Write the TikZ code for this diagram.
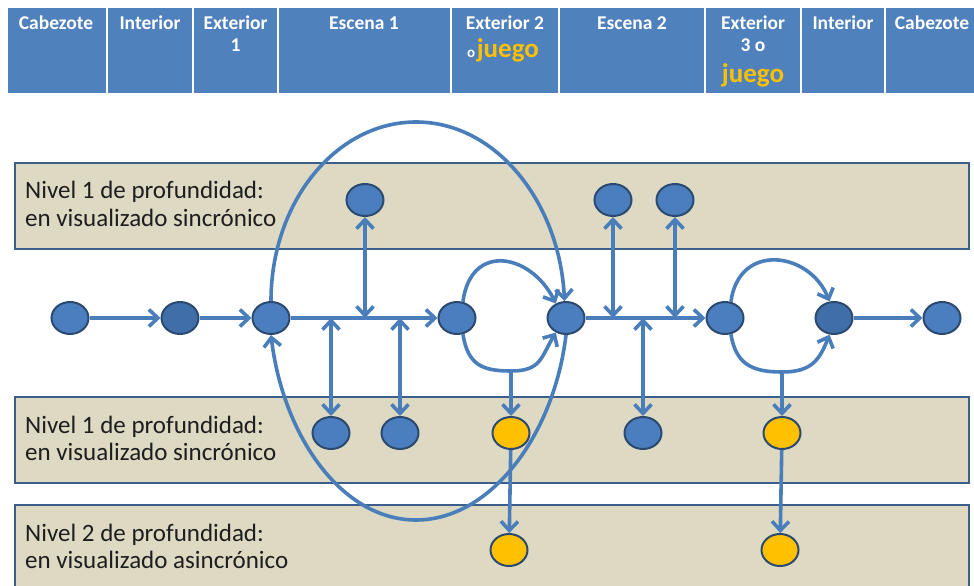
\documentclass[tikz,border=0pt]{standalone}
\usepackage{fontspec}
\setmainfont{Carlito}
\usetikzlibrary{shapes.geometric,arrows.meta}
\definecolor{hdr}{HTML}{4F81BD}
\definecolor{gold}{HTML}{FFC000}
\definecolor{bandfill}{HTML}{DDD9C3}
\definecolor{bandline}{HTML}{3B5E8C}
\definecolor{connc}{HTML}{4A7EBB}
\definecolor{discfill}{HTML}{4A7EBE}
\definecolor{discdark}{HTML}{3F6EA8}
\definecolor{discline}{HTML}{2C4A70}
\definecolor{ink}{HTML}{1E1E1E}
\begin{document}
\begin{tikzpicture}[x=1pt,y=-1pt,
  hcell/.style={draw=white, line width=1.5pt, fill=hdr, anchor=north west, minimum height=87pt, inner sep=0pt, outer sep=0pt},
  htext/.style={anchor=base, text=white, font=\bfseries\fontsize{19.5}{22}\selectfont, inner sep=0pt},
  jtext/.style={anchor=base, text=gold, font=\bfseries\fontsize{27}{30}\selectfont, inner sep=0pt},
  band/.style={draw=bandline, line width=1.8pt, fill=bandfill, anchor=north west, inner sep=0pt, minimum width=954pt},
  btext/.style={anchor=base west, text=ink, font=\fontsize{25}{28}\selectfont, inner sep=0pt},
  disc/.style={ellipse, draw=discline, line width=2pt, fill=discfill, minimum width=37pt, minimum height=32pt, inner sep=0pt},
  discd/.style={disc, fill=discdark},
  discy/.style={disc, fill=gold},
  link/.style={draw=connc, line width=3.6pt, -{Straight Barb[length=9pt,width=17pt]}},
  link2/.style={draw=connc, line width=3.6pt, {Straight Barb[length=9pt,width=17pt]}-{Straight Barb[length=9pt,width=17pt]}}
]
\useasboundingbox (0,0) rectangle (974,586);
\clip (0,0) rectangle (974,586);
% header
\node[hcell, minimum width=100pt] (h1) at (7,7) {};
\node[hcell, minimum width=86pt] (h2) at (107,7) {};
\node[hcell, minimum width=85pt] (h3) at (193,7) {};
\node[hcell, minimum width=173pt] (h4) at (278,7) {};
\node[hcell, minimum width=108pt] (h5) at (451,7) {};
\node[hcell, minimum width=146pt] (h6) at (559,7) {};
\node[hcell, minimum width=96pt] (h7) at (705,7) {};
\node[hcell, minimum width=84pt] (h8) at (801,7) {};
\node[hcell, minimum width=100pt] (h9) at (885,7) {};
\node[htext] (x1) at (56,30) {Cabezote};
\node[htext] (x2) at (150,30) {Interior};
\node[htext] (x3a) at (235.5,30) {Exterior};
\node[htext] (x3b) at (235.5,52) {1};
\node[htext] (x4) at (364,30) {Escena 1};
\node[htext] (x5a) at (505,30) {Exterior 2};
\node[anchor=base, inner sep=0pt] (x5b) at (503,58) {\textcolor{white}{\bfseries\fontsize{15}{16}\selectfont o}\,\textcolor{gold}{\bfseries\fontsize{27}{30}\selectfont juego}};
\node[htext] (x6) at (632,30) {Escena 2};
\node[htext] (x7a) at (753,30) {Exterior};
\node[htext] (x7b) at (753,52) {3 o};
\node[jtext] (x7c) at (753,82) {juego};
\node[htext] (x8) at (843,30) {Interior};
\node[htext] (x9) at (932,30) {Cabezote};
% bands
\node[band, minimum height=86pt] (b1) at (14,162) {};
\node[band, minimum height=86pt] (b2) at (14,396) {};
\node[band, minimum height=100pt] (b3) at (14,504) {};
\node[btext] (l1a) at (25,198) {Nivel 1 de profundidad:};
\node[btext] (l1b) at (25,226) {en visualizado sincrónico};
\node[btext] (l2a) at (25,433) {Nivel 1 de profundidad:};
\node[btext] (l2b) at (25,460) {en visualizado sincrónico};
\node[btext] (l3a) at (25,541) {Nivel 2 de profundidad:};
\node[btext] (l3b) at (25,568) {en visualizado asincrónico};
% discs
\node[disc] (n1) at (70,318) {};
\node[discd] (n2) at (180,318) {};
\node[disc] (n3) at (271,318) {};
\node[disc] (n4) at (457,318) {};
\node[disc] (n5) at (566,318) {};
\node[disc] (n6) at (725,318) {};
\node[discd] (n7) at (834,318) {};
\node[disc] (n8) at (942,318) {};
\node[disc] (t1) at (365,200) {};
\node[disc] (t2) at (613,200) {};
\node[disc] (t3) at (675,200) {};
\node[disc] (d1) at (331,433) {};
\node[disc] (d2) at (400,433) {};
\node[discy] (d3) at (511,433) {};
\node[disc] (d4) at (643,433) {};
\node[discy] (d5) at (782,433) {};
\node[discy] (e1) at (509,550) {};
\node[discy] (e2) at (780,550) {};
% junction points
\coordinate (j1) at (331,318);
\coordinate (j2) at (365,318);
\coordinate (j3) at (400,318);
\coordinate (j4) at (613,318);
\coordinate (j5) at (643,318);
\coordinate (j6) at (675,318);
\coordinate (k1) at (511,371);
\coordinate (k2) at (782,372);
\coordinate (a1) at (416,122);
\coordinate (a2) at (416,520);
% main line
\draw[link] (n1) -- (n2);
\draw[link] (n2) -- (n3);
\draw[link] (n3) -- (n4);
\draw[link] (n5) -- (n6);
\draw[link] (n7) -- (n8);
\draw[link2] (j2) -- (t1);
\draw[link2] (j1) -- (d1);
\draw[link2] (j3) -- (d2);
\draw[link2] (j4) -- (t2);
\draw[link2] (j6) -- (t3);
\draw[link2] (j5) -- (d4);
% loops
\draw[link] (n4.70) .. controls +(8,-60) and +(-25,-50) .. (n5.125);
\draw[link] (n4.290) .. controls +(5,30) and +(-30,0) .. (k1) .. controls +(30,0) and +(-15,25) .. (n5.235);
\draw[link] (k1) -- (d3);
\draw[link] (d3) -- (e1);
\draw[link] (n6.70) .. controls +(8,-60) and +(-20,-50) .. (n7.105);
\draw[link] (n6.290) .. controls +(5,30) and +(-30,0) .. (k2) .. controls +(30,0) and +(-10,25) .. (n7.255);
\draw[link] (k2) -- (d5);
\draw[link] (d5) -- (e2);
% big arcs
\draw[link] (n3.north) .. controls +(0,-99) and +(-80,0) .. (a1) .. controls +(80,0) and +(-5,-99) .. (n5.95);
\draw[link] (n5.south) .. controls +(-12,100) and +(75,0) .. (a2) .. controls +(-75,0) and +(12,100) .. (n3.south);
\end{tikzpicture}
\end{document}
